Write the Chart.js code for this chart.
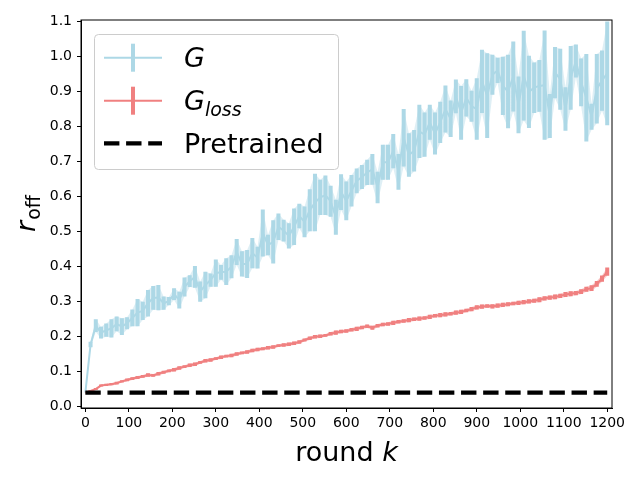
<!DOCTYPE html>
<html>
<head>
<meta charset="utf-8">
<script src="https://cdn.jsdelivr.net/npm/chart.js@4.4.0/dist/chart.umd.min.js"></script>
<style>
  html, body { margin: 0; padding: 0; background: #fff; }
</style>
</head>
<body>
<canvas id="roff-chart" width="640" height="480"></canvas>
<script>
// rounds are logged every 12 steps, 0..1200
const rounds = Array.from({ length: 101 }, (_, i) => i * 12);

const xTicks = [0, 100, 200, 300, 400, 500, 600, 700, 800, 900, 1000, 1100, 1200];
const yTicks = [0, 0.1, 0.2, 0.3, 0.4, 0.5, 0.6, 0.7, 0.8, 0.9, 1.0, 1.1];

const pretrained = 0.04;

const gMean = [
  0.040, 0.177, 0.231, 0.211, 0.218, 0.223, 0.236, 0.228, 0.238, 0.253,
  0.268, 0.273, 0.295, 0.310, 0.311, 0.295, 0.301, 0.321, 0.304, 0.341,
  0.358, 0.370, 0.328, 0.347, 0.361, 0.381, 0.383,
  0.385, 0.399, 0.441, 0.407, 0.407, 0.438, 0.425, 0.495, 0.461, 0.470,
  0.513, 0.502, 0.487, 0.513, 0.544, 0.527, 0.560, 0.582, 0.597, 0.603,
  0.586, 0.540, 0.612, 0.587, 0.616, 0.644, 0.655,
  0.668, 0.677, 0.625, 0.697, 0.697, 0.729, 0.670, 0.767, 0.718, 0.730,
  0.785, 0.776, 0.811, 0.779, 0.811, 0.849, 0.821, 0.885, 0.838, 0.881,
  0.857, 0.849, 0.928, 0.887, 0.947,
  0.959, 0.915, 0.899, 0.942, 0.861, 0.944, 0.898, 0.910, 0.915, 0.917,
  0.829, 0.953, 0.934, 0.849, 0.938, 0.986, 0.925, 0.881, 0.827, 0.907,
  0.930, 0.951
];
const gErr = [
  0.000, 0.008, 0.018, 0.017, 0.019, 0.026, 0.021, 0.024, 0.017, 0.024,
  0.039, 0.026, 0.038, 0.034, 0.036, 0.019, 0.012, 0.017, 0.024, 0.027,
  0.017, 0.031, 0.029, 0.038, 0.019, 0.039, 0.021,
  0.038, 0.033, 0.037, 0.036, 0.040, 0.043, 0.031, 0.067, 0.029, 0.062,
  0.038, 0.031, 0.036, 0.052, 0.035, 0.044, 0.060, 0.082, 0.050, 0.056,
  0.044, 0.050, 0.051, 0.055, 0.045, 0.035, 0.034,
  0.036, 0.044, 0.045, 0.050, 0.050, 0.049, 0.051, 0.082, 0.062, 0.059,
  0.076, 0.063, 0.050, 0.060, 0.059, 0.067, 0.052, 0.048, 0.077, 0.053,
  0.044, 0.088, 0.090, 0.121, 0.057,
  0.036, 0.083, 0.105, 0.100, 0.081, 0.128, 0.103, 0.072, 0.074, 0.156,
  0.063, 0.073, 0.087, 0.062, 0.091, 0.047, 0.068, 0.125, 0.037, 0.099,
  0.086, 0.148
];

// G_loss: mean and std
const lossMean = [
  0.040, 0.045, 0.050, 0.060, 0.062, 0.064, 0.067, 0.072, 0.076, 0.080,
  0.083, 0.086, 0.090, 0.089, 0.094, 0.098, 0.102, 0.105, 0.110, 0.114,
  0.118, 0.121, 0.126, 0.131, 0.133, 0.137, 0.141, 0.144, 0.146, 0.150,
  0.153, 0.156, 0.160, 0.163, 0.165, 0.168, 0.170, 0.174, 0.176, 0.178,
  0.181, 0.184, 0.190, 0.195, 0.199, 0.201, 0.203, 0.208, 0.211, 0.214,
  0.216, 0.219, 0.222, 0.226, 0.229, 0.225, 0.231, 0.234, 0.236, 0.239,
  0.242, 0.244, 0.247, 0.249, 0.251, 0.253, 0.256, 0.259, 0.261, 0.263,
  0.265, 0.268, 0.270, 0.274, 0.278, 0.283, 0.285, 0.287, 0.286, 0.288,
  0.290, 0.292, 0.294, 0.296, 0.298, 0.300, 0.302, 0.305, 0.309, 0.311,
  0.313, 0.316, 0.320, 0.322, 0.324, 0.328, 0.335, 0.338, 0.350, 0.365,
  0.385
];
const lossErr = [
  0.000, 0.002, 0.003, 0.003, 0.003, 0.003, 0.004, 0.003, 0.004, 0.004,
  0.004, 0.004, 0.005, 0.004, 0.005, 0.004, 0.004, 0.005, 0.005, 0.004,
  0.005, 0.005, 0.004, 0.005, 0.005, 0.004, 0.005, 0.004, 0.005, 0.005,
  0.004, 0.005, 0.005, 0.005, 0.004, 0.005, 0.005, 0.004, 0.005, 0.005,
  0.005, 0.005, 0.004, 0.005, 0.005, 0.005, 0.004, 0.005, 0.006, 0.005,
  0.005, 0.005, 0.006, 0.005, 0.005, 0.006, 0.005, 0.005, 0.005, 0.006,
  0.005, 0.005, 0.006, 0.005, 0.006, 0.005, 0.006, 0.005, 0.006, 0.006,
  0.005, 0.006, 0.006, 0.005, 0.006, 0.006, 0.006, 0.005, 0.006, 0.006,
  0.006, 0.006, 0.005, 0.006, 0.006, 0.006, 0.006, 0.007, 0.006, 0.006,
  0.007, 0.006, 0.007, 0.007, 0.006, 0.007, 0.007, 0.008, 0.008, 0.009,
  0.012
];

const gColor = '#add8e6';       // lightblue
const lossColor = '#f08080';    // lightcoral
const FONT = "'DejaVu Sans', sans-serif";

const pts = vals => vals.map((v, i) => ({ x: rounds[i], y: v }));
const shifted = (mean, err, sign) => mean.map((m, i) => m + sign * err[i]);

// which dataset index gets which error bars
const barSpecs = {
  1: { mean: lossMean, err: lossErr, color: lossColor },
  4: { mean: gMean, err: gErr, color: gColor }
};

const errorBars = {
  id: 'errorBars',
  afterDatasetDraw(chart, args) {
    const spec = barSpecs[args.index];
    if (!spec) return;
    const { ctx, chartArea: a, scales: { x, y } } = chart;
    ctx.save();
    ctx.beginPath();
    ctx.rect(a.left, a.top, a.right - a.left, a.bottom - a.top);
    ctx.clip();
    ctx.strokeStyle = spec.color;
    ctx.lineWidth = 4;
    ctx.beginPath();
    rounds.forEach((r, i) => {
      const e = spec.err[i];
      if (!e) return;
      const px = x.getPixelForValue(r);
      ctx.moveTo(px, y.getPixelForValue(spec.mean[i] - e));
      ctx.lineTo(px, y.getPixelForValue(spec.mean[i] + e));
    });
    ctx.stroke();
    ctx.restore();
  }
};

// box, axis titles and legend, matplotlib style
const decorations = {
  id: 'decorations',
  afterDraw(chart) {
    const { ctx, chartArea: a } = chart;
    ctx.save();
    ctx.strokeStyle = '#000';
    ctx.lineWidth = 1;
    ctx.strokeRect(a.left, a.top, a.right - a.left, a.bottom - a.top);

    ctx.fillStyle = '#000';
    ctx.textBaseline = 'alphabetic';

    // x title: round k
    ctx.font = '27px ' + FONT;
    const w1 = ctx.measureText('round ').width;
    ctx.font = 'italic 27px ' + FONT;
    const w2 = ctx.measureText('k').width;
    let sx = (a.left + a.right) / 2 - (w1 + w2) / 2;
    ctx.font = '27px ' + FONT;
    ctx.fillText('round ', sx, 461);
    ctx.font = 'italic 27px ' + FONT;
    ctx.fillText('k', sx + w1, 461);

    // y title: r_off
    ctx.save();
    ctx.translate(35, (a.top + a.bottom) / 2);
    ctx.rotate(-Math.PI / 2);
    ctx.font = 'italic 27px ' + FONT;
    const rw = ctx.measureText('r').width;
    ctx.font = '19px ' + FONT;
    const ow = ctx.measureText('off').width;
    const sy = -(rw + ow) / 2;
    ctx.font = 'italic 27px ' + FONT;
    ctx.fillText('r', sy, 0);
    ctx.font = '19px ' + FONT;
    ctx.fillText('off', sy + rw + 1, 5);
    ctx.restore();

    // legend
    ctx.beginPath();
    ctx.roundRect(94.5, 34.5, 244, 135, 4);
    ctx.fillStyle = 'rgba(255,255,255,0.8)';
    ctx.fill();
    ctx.strokeStyle = '#cccccc';
    ctx.stroke();

    const rows = [57.7, 100.7, 143.3];
    const hx0 = 104, hx1 = 162, hmid = 133, tx = 184;
    [[gColor, rows[0]], [lossColor, rows[1]]].forEach(([c, ry]) => {
      ctx.strokeStyle = c;
      ctx.lineWidth = 2;
      ctx.beginPath();
      ctx.moveTo(hx0, ry);
      ctx.lineTo(hx1, ry);
      ctx.stroke();
      ctx.lineWidth = 4;
      ctx.beginPath();
      ctx.moveTo(hmid, ry - 14);
      ctx.lineTo(hmid, ry + 14);
      ctx.stroke();
    });
    ctx.strokeStyle = '#000';
    ctx.lineWidth = 4.2;
    ctx.setLineDash([15.4, 6.7]);
    ctx.beginPath();
    ctx.moveTo(hx0, rows[2]);
    ctx.lineTo(hx1, rows[2]);
    ctx.stroke();
    ctx.setLineDash([]);

    ctx.fillStyle = '#000';
    ctx.font = 'italic 27px ' + FONT;
    ctx.fillText('G', tx, rows[0] + 9.5);
    ctx.fillText('G', tx, rows[1] + 9.5);
    const gw = ctx.measureText('G').width;
    ctx.font = 'italic 19px ' + FONT;
    ctx.fillText('loss', tx + gw, rows[1] + 15);
    ctx.font = '27px ' + FONT;
    ctx.fillText('Pretrained', tx, rows[2] + 10);
    ctx.restore();
  }
};

const axisStyle = {
  grid: { drawOnChartArea: false, drawTicks: true, tickLength: 4, color: '#000', lineWidth: 1 },
  border: { display: true, color: '#000', width: 1 }
};

const ctx = document.getElementById('roff-chart');
new Chart(ctx, {
  type: 'line',
  data: {
    datasets: [
      {
        label: 'Pretrained',
        data: [{ x: rounds[0], y: pretrained }, { x: rounds[rounds.length - 1], y: pretrained }],
        borderColor: '#000',
        borderWidth: 4.2,
        borderDash: [15.4, 6.7],
        order: 0
      },
      {
        label: 'G_loss',
        data: pts(lossMean),
        borderColor: lossColor,
        borderWidth: 2,
        order: 1
      },
      {
        label: 'G_loss low',
        data: pts(shifted(lossMean, lossErr, -1)),
        borderWidth: 0,
        borderColor: 'rgba(0,0,0,0)',
        order: 2
      },
      {
        label: 'G_loss high',
        data: pts(shifted(lossMean, lossErr, 1)),
        borderWidth: 0,
        borderColor: 'rgba(0,0,0,0)',
        backgroundColor: 'rgba(240,128,128,0.4)',
        fill: 2,
        order: 3
      },
      {
        label: 'G',
        data: pts(gMean),
        borderColor: gColor,
        borderWidth: 2,
        order: 4
      },
      {
        label: 'G low',
        data: pts(shifted(gMean, gErr, -1)),
        borderWidth: 0,
        borderColor: 'rgba(0,0,0,0)',
        order: 5
      },
      {
        label: 'G high',
        data: pts(shifted(gMean, gErr, 1)),
        borderWidth: 0,
        borderColor: 'rgba(0,0,0,0)',
        backgroundColor: 'rgba(173,216,230,0.4)',
        fill: 5,
        order: 6
      }
    ]
  },
  options: {
    responsive: false,
    animation: false,
    layout: { padding: { left: 0, right: 28, top: 20, bottom: 0 } },
    elements: { point: { radius: 0 }, line: { tension: 0 } },
    plugins: { legend: { display: false }, tooltip: { enabled: false } },
    scales: {
      x: {
        type: 'linear',
        min: -10,
        max: 1211,
        afterBuildTicks: s => { s.ticks = xTicks.map(v => ({ value: v })); },
        afterFit: s => { s.height = 72; },
        ticks: {
          color: '#000',
          font: { family: FONT, size: 14 },
          padding: 3,
          maxRotation: 0,
          autoSkip: false,
          callback: v => String(v)
        },
        ...axisStyle
      },
      y: {
        type: 'linear',
        min: -0.004,
        max: 1.103,
        afterBuildTicks: s => { s.ticks = yTicks.map(v => ({ value: v })); },
        afterFit: s => { s.width = 81; },
        ticks: {
          color: '#000',
          font: { family: FONT, size: 14 },
          padding: 5,
          autoSkip: false,
          callback: v => v.toFixed(1)
        },
        ...axisStyle
      }
    }
  },
  plugins: [errorBars, decorations]
});
</script>
</body>
</html>
